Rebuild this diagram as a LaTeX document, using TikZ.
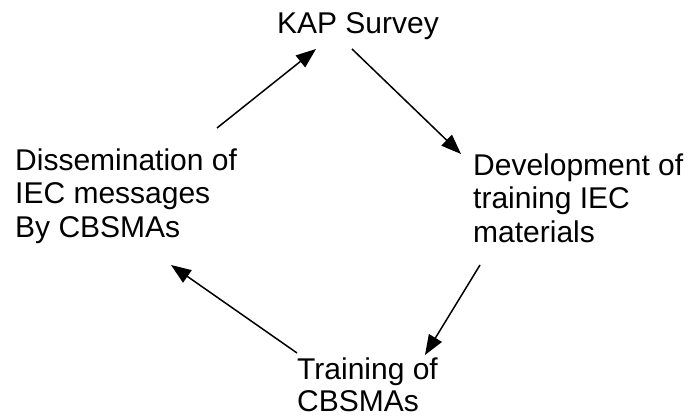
\documentclass[tikz,border=0pt]{standalone}
\usepackage{fontspec}
\setmainfont{Liberation Sans}
\usetikzlibrary{arrows.meta,calc}
\begin{document}
\begin{tikzpicture}[x=1pt,y=1pt,
  lbl/.style={inner sep=0pt,font=\fontsize{30}{33.5}\selectfont},
  arr/.style={line width=1.5pt,-{Triangle[length=20pt,width=15pt]}}]
\useasboundingbox[fill=white] (0,0) rectangle (690,417);
\node[lbl] (kap) at (358,391) {KAP Survey};
\node[lbl,anchor=west,align=left] (dev) at (473,219) {Development of\\training IEC\\materials};
\node[lbl,anchor=west,align=left] (dis) at (15,221) {Dissemination of\\IEC messages\\By CBSMAs};
\node[lbl,anchor=west,align=left,font=\fontsize{30}{32}\selectfont] (tra) at (297,32) {Training of\\CBSMAs};
\draw[arr] ($(kap)+(-6,-23)$) -- ($(dev.west)+(-12,44)$);
\draw[arr] ($(dev.west)+(7,-67)$) -- ($(tra.west)+(128,30)$);
\draw[arr] ($(tra.west)+(0,32)$) -- ($(dis.west)+(156,-69)$);
\draw[arr] ($(dis.west)+(202,68)$) -- ($(kap)+(-42,-23)$);
\end{tikzpicture}
\end{document}
